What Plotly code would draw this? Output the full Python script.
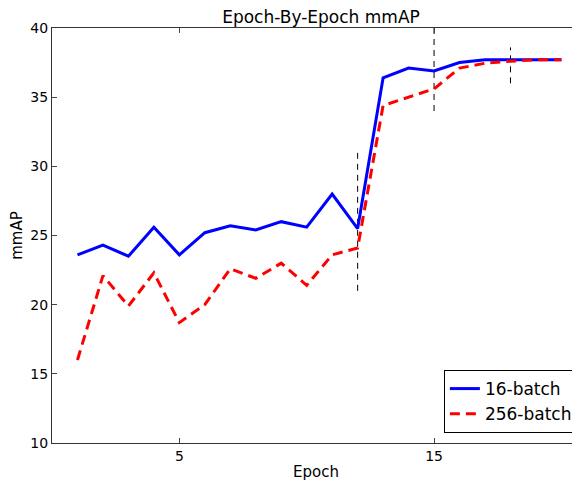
import plotly.graph_objects as go

epochs = list(range(1, 21))
batch16 = [23.6, 24.3, 23.5, 25.6, 23.6, 25.2, 25.7, 25.4, 26.0, 25.6,
           28.0, 25.5, 36.4, 37.1, 36.9, 37.5, 37.7, 37.7, 37.7, 37.7]
batch256 = [16.0, 22.1, 19.9, 22.3, 18.7, 20.0, 22.6, 21.9, 23.0, 21.4,
            23.6, 24.1, 34.4, 35.0, 35.6, 37.1, 37.45, 37.6, 37.7, 37.7]

marker_x = [12, 15, 18]
marker_lo = [21.0, 34.0, 36.0]
marker_hi = [31.0, 40.0, 38.6]

x_ticks = [5, 15]
y_ticks = [10, 15, 20, 25, 30, 35, 40]

font = "DejaVu Sans, Liberation Sans, sans-serif"

# page body has an 8px margin; the figure is sized so it fills the 580x481 view
OFF = 8
W, H = 580 - OFF, 481 - OFF
L, T, B = 52 - OFF, 28 - OFF, 481 - 443

fig = go.Figure()

for mx, lo, hi in zip(marker_x, marker_lo, marker_hi):
    fig.add_trace(go.Scatter(x=[mx, mx], y=[lo, hi], mode="lines",
                             line=dict(color="black", width=1, dash="6px,5px"),
                             showlegend=False, hoverinfo="skip"))

fig.add_trace(go.Scatter(x=epochs, y=batch16, mode="lines", name="16-batch",
                         line=dict(color="#0000ff", width=3)))
fig.add_trace(go.Scatter(x=epochs, y=batch256, mode="lines", name="256-batch",
                         line=dict(color="#ff0000", width=3, dash="10px,6px")))

pw = W - L
fig.update_layout(
    width=W, height=H,
    margin=dict(l=L, r=0, t=T, b=B, pad=0),
    plot_bgcolor="white", paper_bgcolor="white",
    font=dict(family=font, size=14, color="black"),
    title=dict(text="Epoch-By-Epoch mmAP", x=(321 - 52) / pw, xref="paper",
               xanchor="center", y=1, yref="paper", yanchor="bottom",
               pad=dict(b=5), font=dict(size=17)),
    xaxis=dict(range=[0, 20.73], tickvals=x_ticks, ticks="inside", ticklen=5,
               showline=True, linecolor="#333", linewidth=1.3, mirror="ticks",
               showgrid=False, zeroline=False,
               title=dict(text="Epoch", standoff=6, font=dict(size=15))),
    yaxis=dict(range=[10, 40], tickvals=y_ticks, ticks="inside", ticklen=5,
               showline=True, linecolor="#333", linewidth=1.3,
               showgrid=False, zeroline=False,
               title=dict(text="mmAP", standoff=8, font=dict(size=15))),
    legend=dict(x=0.996, y=0.024, xanchor="right", yanchor="bottom",
                bordercolor="black", borderwidth=1, bgcolor="white",
                font=dict(size=17), itemwidth=30, tracegroupgap=0),
)

fig.write_html("out.html")
